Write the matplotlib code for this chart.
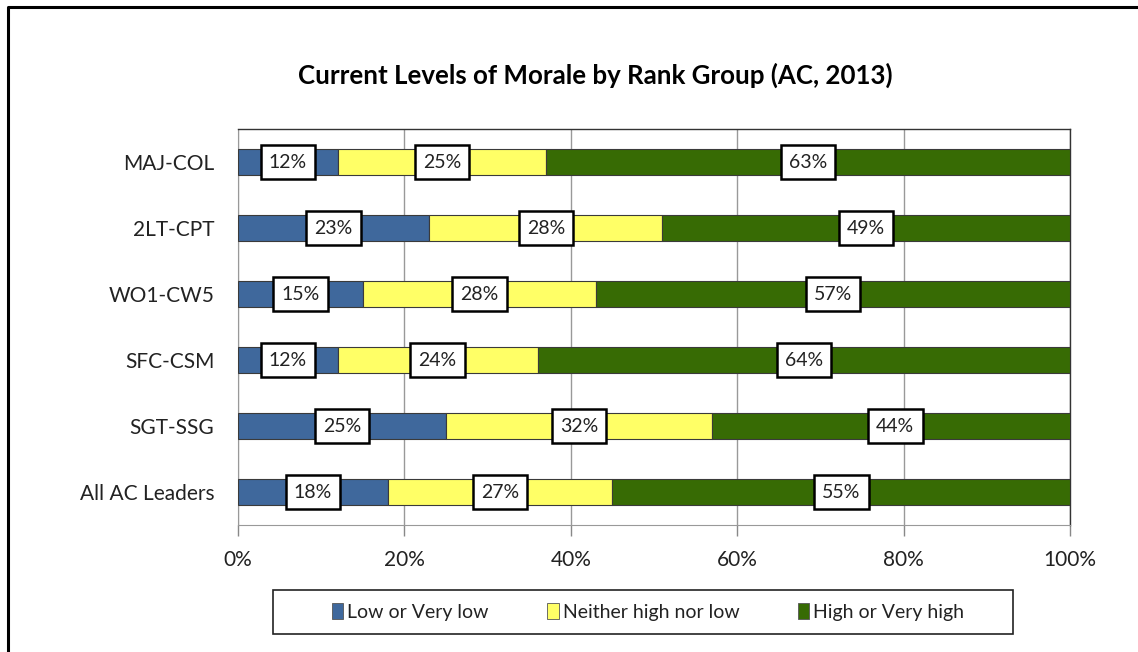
import matplotlib
matplotlib.use("Agg")
import matplotlib.pyplot as plt
from matplotlib.lines import Line2D
from matplotlib.patches import Rectangle, Patch
import numpy as np

categories = ["MAJ-COL", "2LT-CPT", "WO1-CW5", "SFC-CSM", "SGT-SSG", "All AC Leaders"]
low = [12, 23, 15, 12, 25, 18]
neither = [25, 28, 28, 24, 32, 27]
high = [63, 49, 57, 64, 44, 55]
series_names = ["Low or Very low", "Neither high nor low", "High or Very high"]
colors = ["#3F689C", "#FFFF66", "#376B04"]
xticks = [0, 20, 40, 60, 80, 100]
xticklabels = ["0%", "20%", "40%", "60%", "80%", "100%"]
title = "Current Levels of Morale by Rank Group (AC, 2013)"

W, H = 1138, 652
fig = plt.figure(figsize=(W / 100, H / 100), dpi=100)
plt.rcParams['font.family'] = ['Lato', 'DejaVu Sans']

ax = fig.add_axes([238 / W, 1 - 525 / H, (1070 - 238) / W, (525 - 129) / H])

y = np.arange(len(categories))
series = [low, neither, high]
left = np.zeros(len(categories))
for vals, col in zip(series, colors):
    vals = np.array(vals, dtype=float)
    ax.barh(y, vals, left=left, height=0.4, color=col, edgecolor="#3a3a3a",
            linewidth=0.8, zorder=3)
    for yi, (l, v) in enumerate(zip(left, vals)):
        ax.text(l + v / 2, yi, f"{int(v)}%", ha="center", va="center",
                fontsize=14, color="#222222", zorder=5,
                bbox=dict(boxstyle="square,pad=0.42", fc="white", ec="black", lw=1.8))
    left = left + vals

ax.set_xlim(0, 100)
ax.set_ylim(len(categories) - 0.5, -0.5)
ax.set_yticks(y)
ax.set_yticklabels(categories, fontsize=15, color="#222222")
ax.tick_params(axis="y", length=0, pad=17)
ax.set_xticks(xticks)
ax.set_xticklabels(xticklabels, fontsize=15, color="#222222")
ax.tick_params(axis="x", length=8, width=1, color="#888888", pad=10, direction="out")
ax.grid(axis="x", color="#999999", linewidth=1, zorder=0)
ax.set_axisbelow(True)
for side in ["top", "right"]:
    ax.spines[side].set_color("#333333")
    ax.spines[side].set_linewidth(1)
ax.spines["left"].set_color("#999999")
ax.spines["bottom"].set_color("#999999")

fig.text(595 / W, 1 - 75 / H, title, ha="center", va="center",
         fontsize=18.6, fontweight="bold", color="black")

# outer frame (clipped at right and bottom)
fig.add_artist(Line2D([8 / W, 8 / W, 1.0], [0.0, 1 - 7 / H, 1 - 7 / H],
                      color="black", linewidth=2.2, transform=fig.transFigure))

# legend box
fig.add_artist(Rectangle((273 / W, 1 - 634 / H), (1013 - 273) / W, (634 - 590) / H,
                         fill=False, ec="#222222", lw=1.2, transform=fig.transFigure))
handles = [Patch(facecolor=c, edgecolor="#555555", linewidth=0.6) for c in colors]
fig.legend(handles, series_names, loc="center", bbox_to_anchor=(648 / W, 1 - 612 / H),
           ncol=3, frameon=False, fontsize=14, handlelength=0.6, handleheight=0.9,
           handletextpad=0.2, columnspacing=3.0, labelcolor="#222222")

fig.savefig("out.png", dpi=100, facecolor="white")
